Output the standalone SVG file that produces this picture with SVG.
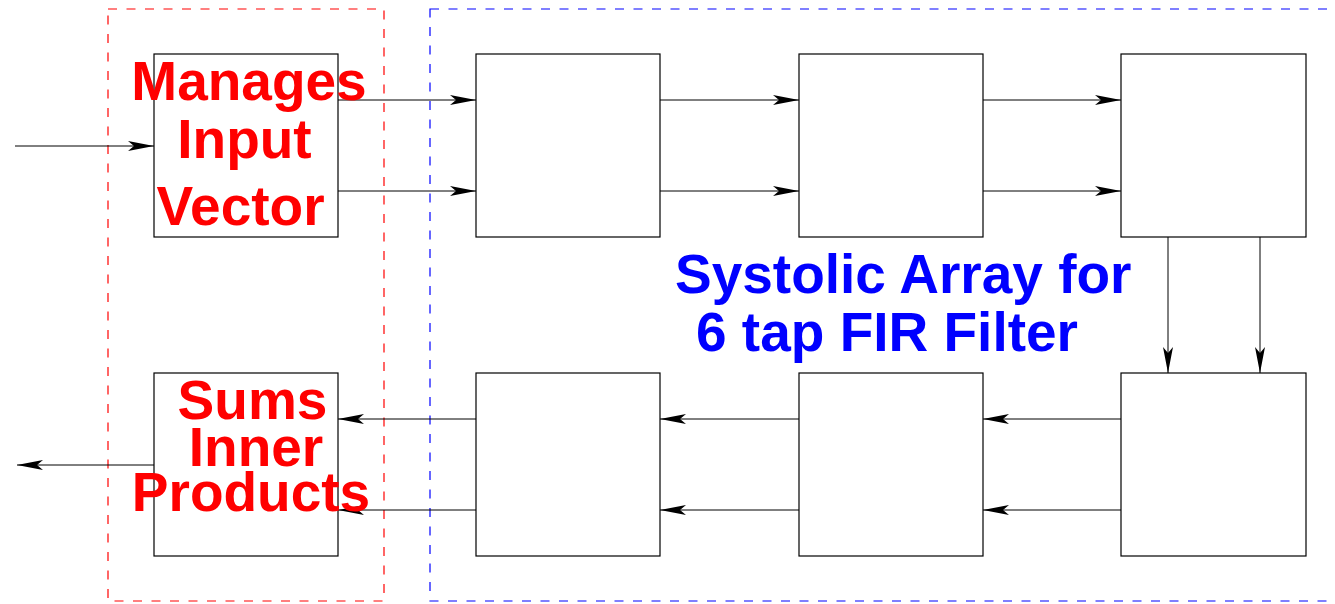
<svg xmlns="http://www.w3.org/2000/svg" width="1335" height="604" viewBox="0 0 1335 604">
<style>
.box{fill:none;stroke:#000;stroke-width:1.2}
.wire{fill:none;stroke:#000;stroke-width:1;marker-end:url(#ah)}
.red{font-family:"Liberation Sans",Arial,sans-serif;font-weight:bold;font-size:55px;fill:#ff0000;text-anchor:middle}
.blue{font-family:"Liberation Sans",Arial,sans-serif;font-weight:bold;font-size:55px;fill:#0000ff}
</style>
<defs>
<marker id="ah" viewBox="0 0 26 10" refX="26" refY="5" markerWidth="26" markerHeight="10" markerUnits="userSpaceOnUse" orient="auto">
<path d="M0,0 L26,5 L0,10 L6,5 Z" fill="#000"/>
</marker>
</defs>
<rect x="0" y="0" width="1335" height="604" fill="#fff"/>
<g id="regions">
<rect x="108" y="9" width="276" height="592" fill="none" stroke="#ff0000" stroke-width="1.2" stroke-dasharray="9,9.5"/>
<rect x="430" y="9" width="920" height="592" fill="none" stroke="#0000ff" stroke-width="1.2" stroke-dasharray="9,9.5"/>
</g>
<g id="connectors">
<line class="wire" x1="15" y1="146" x2="154" y2="146"/>
<line class="wire" x1="338" y1="100" x2="476" y2="100"/>
<line class="wire" x1="338" y1="191" x2="476" y2="191"/>
<line class="wire" x1="660" y1="100" x2="799" y2="100"/>
<line class="wire" x1="660" y1="191" x2="799" y2="191"/>
<line class="wire" x1="983" y1="100" x2="1121" y2="100"/>
<line class="wire" x1="983" y1="191" x2="1121" y2="191"/>
<line class="wire" x1="1168" y1="237" x2="1168" y2="373"/>
<line class="wire" x1="1260" y1="237" x2="1260" y2="373"/>
<line class="wire" x1="1121" y1="419" x2="983" y2="419"/>
<line class="wire" x1="1121" y1="510" x2="983" y2="510"/>
<line class="wire" x1="799" y1="419" x2="660" y2="419"/>
<line class="wire" x1="799" y1="510" x2="660" y2="510"/>
<line class="wire" x1="476" y1="419" x2="338" y2="419"/>
<line class="wire" x1="476" y1="510" x2="338" y2="510"/>
<line class="wire" x1="154" y1="465" x2="17" y2="465"/>
</g>
<g id="manager"><rect class="box" x="154" y="54" width="184" height="183"/></g>
<g id="pe1"><rect class="box" x="476" y="54" width="184" height="183"/></g>
<g id="pe2"><rect class="box" x="799" y="54" width="184" height="183"/></g>
<g id="pe3"><rect class="box" x="1121" y="54" width="185" height="183"/></g>
<g id="pe4"><rect class="box" x="1121" y="373" width="185" height="183"/></g>
<g id="pe5"><rect class="box" x="799" y="373" width="184" height="183"/></g>
<g id="pe6"><rect class="box" x="476" y="373" width="184" height="183"/></g>
<g id="summer"><rect class="box" x="154" y="373" width="184" height="183"/></g>
<g id="labels">
<text class="red" x="249" y="100">Manages</text>
<text class="red" x="244.5" y="158">Input</text>
<text class="red" x="240.5" y="225">Vector</text>
<text class="red" x="252.5" y="419">Sums</text>
<text class="red" x="256" y="466">Inner</text>
<text class="red" x="251" y="511">Products</text>
<text class="blue" x="675" y="293">Systolic Array for</text>
<text class="blue" x="696" y="351">6 tap FIR Filter</text>
</g>
</svg>
